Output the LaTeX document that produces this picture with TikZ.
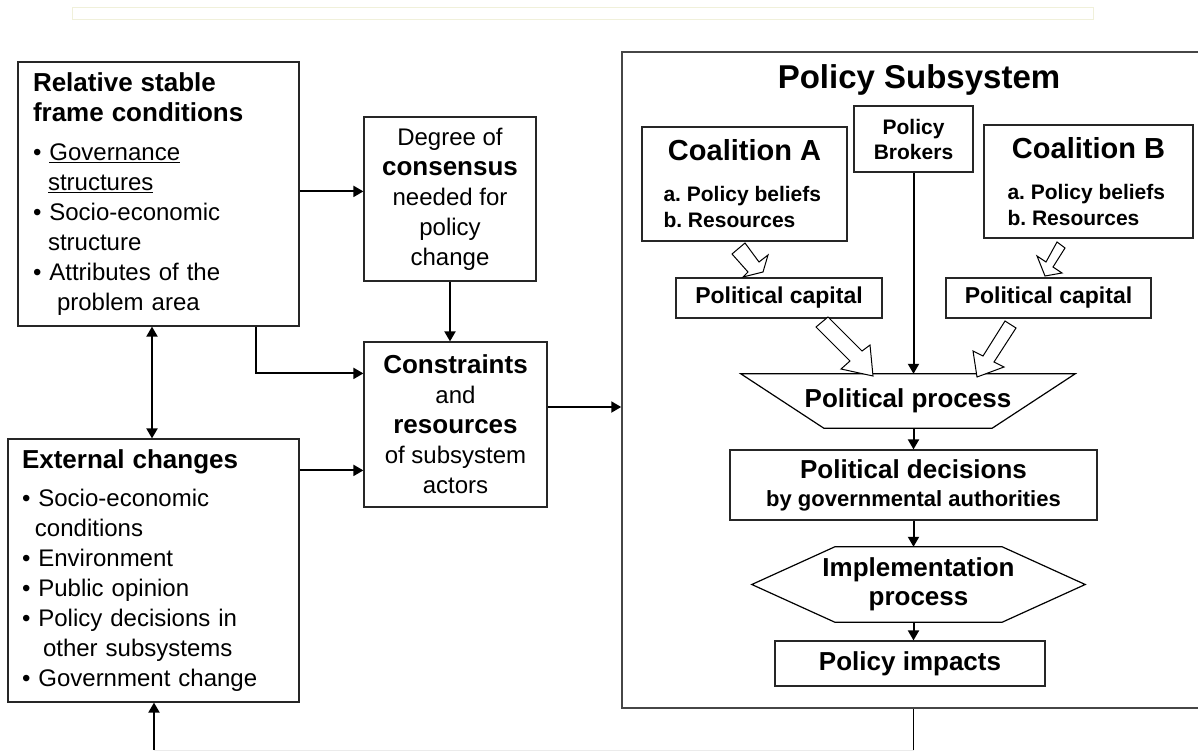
\documentclass[tikz,border=0pt]{standalone}
\usepackage{fontspec}
\setmainfont{Liberation Sans}
\usetikzlibrary{arrows.meta}
\definecolor{paleyellow}{RGB}{240,240,218}
\definecolor{subgray}{RGB}{70,70,70}
\newcommand{\reg}{\fontsize{24}{30}\selectfont}
\newcommand{\hd}[1]{{\fontsize{26}{30}\selectfont\bfseries #1}}

\begin{document}
\begin{tikzpicture}[x=1pt,y=-1pt,>={Triangle[length=10pt,width=11pt]},
    box/.style={draw=black!85,line width=1.2pt,inner sep=0pt,align=center},
    arr/.style={->,line width=2pt}]
  \useasboundingbox (0,0) rectangle (1198,751);
  \draw[paleyellow,line width=1pt] (72,8) rectangle (1093,20);

  \node[box,minimum width=281,minimum height=264,text width=251,align=left,font=\reg] (frame) at (158.5,194)
    {\hd{Relative stable}\\\hd{frame conditions}\\[9pt]
     • \underline{Governance}\\\hspace*{15pt}\underline{structures}\\
     • Socio-economic\\\hspace*{15pt}structure\\
     • Attributes of the\\\hspace*{24pt}problem area};
  \node[box,minimum width=172,minimum height=164,font=\reg] (consensus) at (450,199)
    {Degree of\\\hd{consensus}\\needed for\\policy\\change};
  \node[box,minimum width=183,minimum height=165,font=\reg] (constraints) at (455.5,424.5)
    {\hd{Constraints}\\and\\\hd{resources}\\of subsystem\\actors};
  \node[box,minimum width=291,minimum height=263,text width=263,align=left,font=\reg] (external) at (153.5,570.5)
    {\hd{External changes}\\[8pt]
     • Socio-economic\\\hspace*{13pt}conditions\\
     • Environment\\
     • Public opinion\\
     • Policy decisions in\\\hspace*{21pt}other subsystems\\
     • Government change};

  \node[draw=subgray,line width=1.5pt,minimum width=588,minimum height=656] (subsystem) at (916,380) {};
  \node[font=\fontsize{33}{38}\selectfont\bfseries] (subtitle) at (919,80) {Policy Subsystem};
  \node[box,minimum width=205,minimum height=114,font=\fontsize{21}{26}\selectfont\bfseries] (coalA) at (744.5,184)
    {{\fontsize{29}{34}\selectfont Coalition A}\\[15pt]\makebox[162pt][l]{a.\ Policy beliefs}\\\makebox[162pt][l]{b.\ Resources}};
  \node[box,minimum width=209,minimum height=113,font=\fontsize{21}{26}\selectfont\bfseries] (coalB) at (1088.5,181.5)
    {{\fontsize{29}{34}\selectfont Coalition B}\\[15pt]\makebox[162pt][l]{a.\ Policy beliefs}\\\makebox[162pt][l]{b.\ Resources}};
  \node[box,minimum width=119,minimum height=66,font=\fontsize{21}{25}\selectfont\bfseries] (brokers) at (913.5,139) {Policy\\Brokers};
  \node[box,minimum width=206,minimum height=40,font=\fontsize{23}{26}\selectfont\bfseries] (capA) at (779,298) {Political capital};
  \node[box,minimum width=205,minimum height=40,font=\fontsize{23}{26}\selectfont\bfseries] (capB) at (1048.5,298) {Political capital};
  \node[minimum width=334,minimum height=54,inner sep=0pt,font=\fontsize{26}{30}\selectfont\bfseries] (process) at (908,401) {Political process};
  \draw[line width=1.2pt] (process.north west) -- (process.north east) -- ([xshift=-83pt]process.south east)
    -- ([xshift=83pt]process.south west) -- cycle;
  \node[box,minimum width=367,minimum height=70,font=\fontsize{26}{28}\selectfont\bfseries] (decisions) at (913.5,485)
    {Political decisions\\{\fontsize{22}{28}\selectfont by governmental authorities}};
  \node[minimum width=333,minimum height=75,inner sep=0pt,align=center,font=\fontsize{26}{29}\selectfont\bfseries] (implementation) at (918.5,584.5)
    {Implementation\\process};
  \draw[line width=1.2pt] (implementation.west) -- ([xshift=83pt]implementation.north west) -- ([xshift=-83pt]implementation.north east)
    -- (implementation.east) -- ([xshift=-83pt]implementation.south east) -- ([xshift=83pt]implementation.south west) -- cycle;
  \node[box,minimum width=270,minimum height=45,font=\fontsize{26}{30}\selectfont\bfseries] (impacts) at (910,663.5) {Policy impacts};

  % hollow arrows into the political process
  \draw[line width=1pt,fill=white] (745,243) -- (732,254) -- (748,272) -- (743,277) -- (763,272) -- (768,255) -- (759,262) -- cycle;
  \draw[line width=1pt,fill=white] (1057,242) -- (1046,262) -- (1037,256) -- (1045,276) -- (1062,273) -- (1053,267) -- (1065,248) -- cycle;
  \draw[line width=1pt,fill=white] (816,327) -- (828,317) -- (862,351) -- (870,345) -- (873,376) -- (841,369) -- (850,361) -- cycle;
  \draw[line width=1pt,fill=white] (1005,321) -- (983,356) -- (973,351) -- (977,377) -- (1004,367) -- (994,362) -- (1016,328) -- cycle;

  \draw[arr] ([yshift=-130pt]frame.north east) -- ([yshift=-130pt]frame.north east -| consensus.west);
  \draw[arr] (consensus.south) -- (consensus.south |- constraints.north);
  \draw[arr] ([xshift=-44pt]frame.south east) |- ([yshift=-32pt]constraints.north west);
  \draw[arr] ([yshift=-32pt]external.north east) -- ([yshift=-32pt]external.north east -| constraints.west);
  \draw[<->,line width=2pt] ([xshift=-6.5pt]frame.south) -- ([xshift=-6.5pt]frame.south |- external.north);
  \draw[arr] ([yshift=17.5pt]constraints.east) -- ([yshift=17.5pt]constraints.east -| subsystem.west);

  \draw[arr] (brokers.south) -- (brokers.south |- process.north);
  \draw[arr] (process.south -| decisions.north) -- (decisions.north);
  \draw[arr] (decisions.south) -- (decisions.south |- implementation.north);
  \draw[arr] (implementation.south -| decisions.south) -- (decisions.south |- impacts.north);

  % feedback back to the external changes
  \coordinate (fbR) at (913.5,750);
  \coordinate (fbL) at (154,750);
  \draw[line width=1pt] (decisions.south |- subsystem.south) -- (fbR);
  \draw[black!8,line width=1pt] (fbR) -- (fbL);
  \draw[arr] (fbL) -- (fbL |- external.south);
\end{tikzpicture}
\end{document}
